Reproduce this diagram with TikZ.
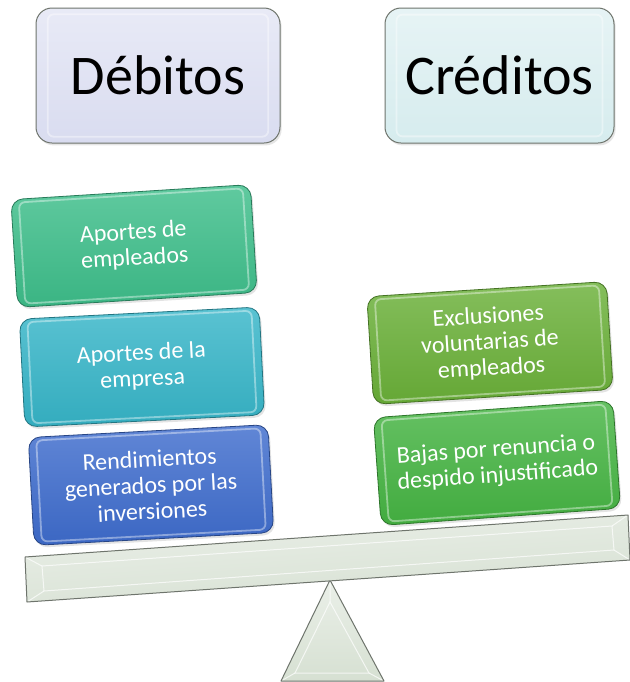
\documentclass[tikz,border=0pt]{standalone}
\usepackage{fontspec}
\setmainfont{Carlito}
\usetikzlibrary{calc,shadows}
\definecolor{debfill}{HTML}{D9DCF0}
\definecolor{credfill}{HTML}{D6ECEE}
\definecolor{cgreen}{HTML}{3DBE8A}
\definecolor{cteal}{HTML}{36B5C8}
\definecolor{cblue}{HTML}{3E6CCD}
\definecolor{clime}{HTML}{6AB038}
\definecolor{cgrn}{HTML}{45B442}
\definecolor{beamc}{HTML}{D6E0D2}
\definecolor{edgec}{HTML}{6E746C}
\tikzset{
  headbox/.style={rounded corners=8pt, minimum height=67.5pt, draw=edgec, line width=0.5pt,
    top color=#1!60!white, bottom color=#1, text=black, font=\fontsize{28}{30}\selectfont,
    drop shadow={opacity=0.2, shadow xshift=0.8pt, shadow yshift=-1.2pt}},
  card/.style={rounded corners=6pt, minimum width=120pt, minimum height=54pt, align=center,
    draw=#1!65!black, line width=0.4pt, top color=#1!82!white, bottom color=#1!95!black,
    text=white, font=\fontsize{12}{13}\selectfont,
    drop shadow={opacity=0.22, shadow xshift=0.8pt, shadow yshift=-1.2pt}},
  bevelline/.style={draw=white, opacity=0.4, line width=0.9pt, rounded corners=3pt},
  beamedge/.style={draw=edgec, line width=0.5pt, line join=round},
  bevelmiter/.style={draw=white, opacity=0.7, line width=0.5pt}
}
\newcommand\bevelbox[2][4.5pt]{%
  \draw[bevelline] ($(#2.north west)!#1!(#2.south east)$) -- ($(#2.north east)!#1!(#2.south west)$)
   -- ($(#2.south east)!#1!(#2.north west)$) -- ($(#2.south west)!#1!(#2.north east)$) -- cycle;}
\begin{document}
\begin{tikzpicture}[x=0.5pt,y=-0.5pt]
\fill[white] (0,0) rectangle (630,682);
\useasboundingbox (0,0) rectangle (630,682);

% fulcrum triangle
\coordinate (t1) at (330,580);
\coordinate (t2) at (384,681);
\coordinate (t3) at (281,681);
\coordinate (u1) at (330,602);
\coordinate (u2) at (369,673);
\coordinate (u3) at (295,673);
\shade[top color=beamc!50!white, bottom color=beamc] (t1) -- (t2) -- (t3) -- cycle;
\draw[bevelmiter] (u1) -- (u2) -- (u3) -- cycle;
\draw[bevelmiter] (t1) -- (u1) (t2) -- (u2) (t3) -- (u3);
\draw[beamedge] (t1) -- (t2) -- (t3) -- cycle;

% beam
\coordinate (b1) at (25,557);
\coordinate (b2) at (628,515);
\coordinate (b3) at (630,560);
\coordinate (b4) at (27,602);
\coordinate (i1) at (42,566);
\coordinate (i2) at (612,526);
\coordinate (i3) at (614,550);
\coordinate (i4) at (44,591);
\shade[top color=beamc!50!white, bottom color=beamc, shading angle=4] (b1) -- (b2) -- (b3) -- (b4) -- cycle;
\draw[bevelmiter] (i1) -- (i2) -- (i3) -- (i4) -- cycle;
\draw[bevelmiter] (b1) -- (i1) (b2) -- (i2) (b3) -- (i3) (b4) -- (i4);
\draw[beamedge] (b1) -- (b2) -- (b3) -- (b4) -- cycle;

% headers
\node[headbox=debfill, minimum width=122pt] (deb) at (158,75.5) {Débitos};
\node[headbox=credfill, minimum width=114.5pt] (cred) at (499.5,75.5) {Créditos};
\bevelbox[7pt]{deb}
\bevelbox[7pt]{cred}

% debit side
\node[card=cgreen, rotate=3.6] (d1) at (134,246) {Aportes de\\empleados};
\node[card=cteal, rotate=2.9] (d2) at (142,367) {Aportes de la\\empresa};
\node[card=cblue, rotate=3.1] (d3) at (151,485) {Rendimientos\\generados por las\\inversiones};
\bevelbox{d1}
\bevelbox{d2}
\bevelbox{d3}

% credit side
\node[card=clime, rotate=3.6] (c1) at (490,343) {Exclusiones\\voluntarias de\\empleados};
\node[card=cgrn, rotate=4.1] (c2) at (497,463) {Bajas por renuncia o\\despido injustificado};
\bevelbox{c1}
\bevelbox{c2}
\end{tikzpicture}
\end{document}
